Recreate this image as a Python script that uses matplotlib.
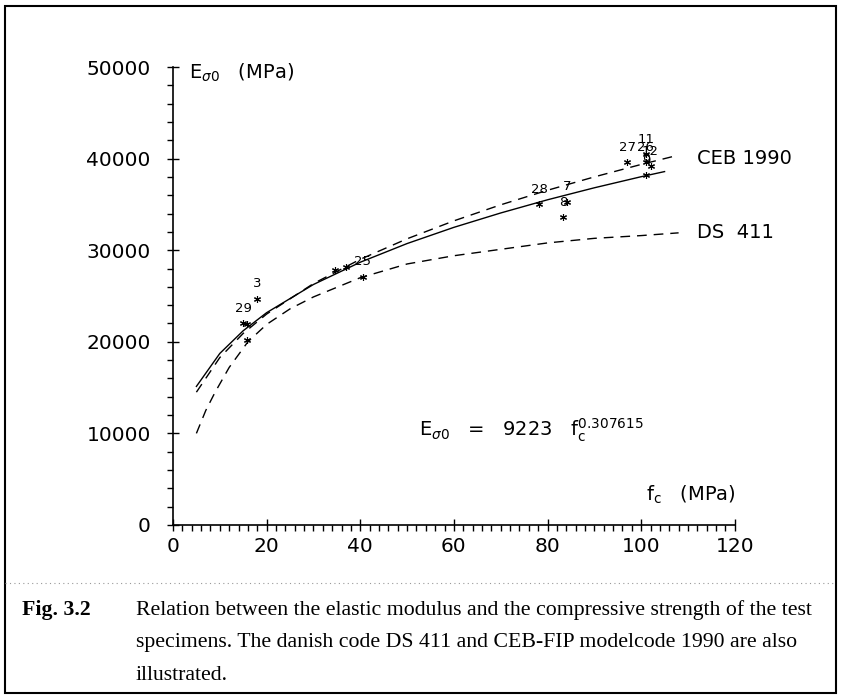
import numpy as np
import matplotlib
matplotlib.use("Agg")
import matplotlib.pyplot as plt
import matplotlib as mpl
from matplotlib.ticker import MultipleLocator
from matplotlib.lines import Line2D
from matplotlib.patches import Rectangle

mpl.rcParams['font.family'] = 'DejaVu Sans'
mpl.rcParams['mathtext.fontset'] = 'dejavusans'

# fitted curve E = 9223 fc^0.307615
fc_fit = [5, 10, 15, 20, 30, 40, 50, 60, 70, 80, 90, 100, 105]
E_fit = [15130, 18730, 21210, 23180, 26260, 28690, 30730, 32500,
         34070, 35510, 36820, 38030, 38590]

# CEB 1990
fc_ceb = [5, 10, 15, 20, 30, 40, 50, 60, 70, 80, 90, 100, 108]
E_ceb = [14500, 18280, 20920, 23030, 26360, 29010, 31250, 33210,
         34960, 36550, 38010, 39370, 40390]

# DS 411
fc_ds = [5, 7, 9, 12, 16, 20, 25, 30, 40, 50, 60, 70, 80, 90, 100, 108]
E_ds = [10000, 12500, 14500, 17200, 20000, 21900, 23600, 24900,
        27000, 28500, 29400, 30100, 30800, 31300, 31600, 31900]

# test specimens
pt_fc = [18.0, 15.0, 15.8, 15.9, 40.5, 34.5, 37.0, 78.2, 84.2, 83.3,
         97.0, 101.0, 101.0, 102.0, 101.0]
pt_E = [24700, 22000, 21900, 20200, 27100, 27800, 28200, 35000, 35300,
        33600, 39600, 40500, 39600, 39200, 38200]
pt_lab = ['3', '29', '', '', '25', '', '', '28', '7', '8',
          '27', '11', '26', '12', '9']

x_ticks = [0, 20, 40, 60, 80, 100, 120]
y_ticks = [0, 10000, 20000, 30000, 40000, 50000]

fig = plt.figure(figsize=(8.41, 6.99), dpi=100)
ax = fig.add_axes([0.2057, 0.249, 0.668, 0.655])

ax.plot(fc_fit, E_fit, color='black', lw=1.0)
ax.plot(fc_ceb, E_ceb, color='black', lw=1.0, ls=(0, (7, 5)))
ax.plot(fc_ds, E_ds, color='black', lw=1.0, ls=(0, (7, 5)))
ax.plot(pt_fc, pt_E, ls='none', marker=(6, 2, 0), ms=5, mew=0.8, color='black')
for x, y, t in zip(pt_fc, pt_E, pt_lab):
    if t:
        ax.annotate(t, (x, y), xytext=(0, 6), textcoords='offset points',
                    ha='center', va='bottom', fontsize=9.5)

ax.text(112, 40000, 'CEB 1990', fontsize=14, va='center', ha='left')
ax.text(112, 31900, 'DS  411', fontsize=14, va='center', ha='left')
ax.text(3.5, 49400, r'E$_{\sigma0}$   (MPa)', fontsize=14, va='center')
ax.text(101, 3300, r'f$_{\rm c}$   (MPa)', fontsize=14, va='center')
ax.text(52.5, 10300, r'E$_{\sigma0}$   =   9223   f$_{\rm c}^{0.307615}$',
        fontsize=14, va='center')

ax.set_xlim(0, 120)
ax.set_ylim(0, 50000)
ax.set_xticks(x_ticks)
ax.set_xticklabels([str(v) for v in x_ticks])
ax.set_yticks(y_ticks)
ax.set_yticklabels([str(v) for v in y_ticks])
ax.xaxis.set_minor_locator(MultipleLocator(2))
ax.yaxis.set_minor_locator(MultipleLocator(2000))
ax.tick_params(which='major', direction='inout', length=8, width=1,
               labelsize=14.5)
ax.tick_params(axis='x', which='major', pad=5)
ax.tick_params(axis='y', which='major', pad=12)
ax.tick_params(which='minor', direction='out', length=4, width=1)
for s in ['top', 'right']:
    ax.spines[s].set_visible(False)
for s in ['left', 'bottom']:
    ax.spines[s].set_linewidth(1.2)

# frame and caption
fig.patches.append(Rectangle((5 / 841, 6 / 699), 831 / 841, 687 / 699,
                             transform=fig.transFigure, fill=False,
                             lw=1.5, ec='black'))
fig.lines.append(Line2D([5 / 841, 836 / 841], [1 - 583 / 699, 1 - 583 / 699],
                        transform=fig.transFigure, color='0.6',
                        lw=0.8, ls=(0, (1, 3))))
cap = dict(family='Liberation Serif', fontsize=15.7, va='center')
fig.text(22 / 841, 1 - 610 / 699, 'Fig. 3.2', weight='bold', **cap)
fig.text(136 / 841, 1 - 610 / 699,
         'Relation between the elastic modulus and the compressive strength of the test',
         **cap)
fig.text(136 / 841, 1 - 643 / 699,
         'specimens. The danish code DS 411 and CEB-FIP modelcode 1990 are also',
         **cap)
fig.text(136 / 841, 1 - 675 / 699, 'illustrated.', **cap)

fig.savefig('out.png', dpi=100, facecolor='white')
